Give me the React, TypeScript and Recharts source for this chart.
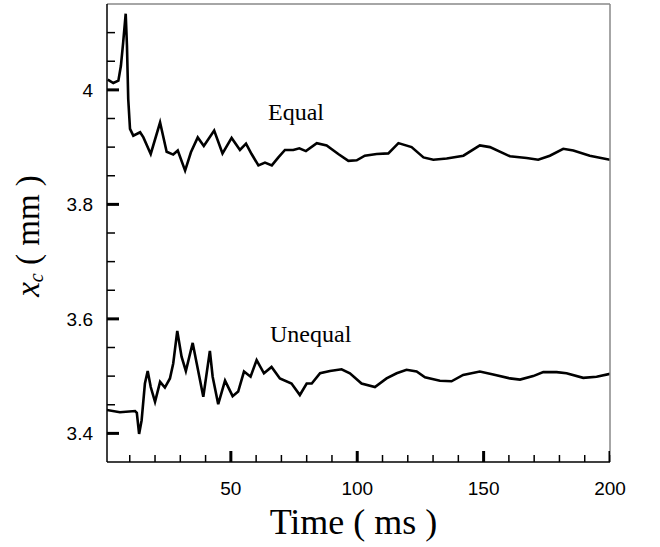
import React from 'react';
import { ComposedChart, Line, Scatter, XAxis, YAxis, ReferenceDot } from 'recharts';

const equalTime = [1.3, 3.5, 5.5, 6.5, 7.4, 8.4, 8.9, 9.4, 10.1, 11.4, 14.1, 15.4, 18.3, 22, 24.6, 27.2, 29, 31.9, 34.2, 36.9, 39.3, 43.4, 46.7, 50.3, 53.6, 56, 58.2, 60.9, 63.5, 66.2, 68.8, 71.4, 74.7, 77.1, 79.7, 84, 87.9, 92.5, 96.5, 99.8, 103, 107.7, 112.3, 116.3, 121.5, 126.2, 130.1, 135.4, 142, 148.5, 152.5, 160.4, 167, 171.6, 176.2, 181.5, 185.5, 192, 200];
const equalValue = [4.018, 4.012, 4.016, 4.042, 4.083, 4.133, 4.077, 3.984, 3.932, 3.92, 3.926, 3.917, 3.888, 3.943, 3.892, 3.887, 3.894, 3.859, 3.891, 3.917, 3.902, 3.929, 3.889, 3.916, 3.895, 3.906, 3.888, 3.868, 3.873, 3.868, 3.882, 3.895, 3.895, 3.898, 3.893, 3.907, 3.903, 3.888, 3.876, 3.877, 3.885, 3.888, 3.889, 3.907, 3.9, 3.882, 3.878, 3.88, 3.885, 3.903, 3.9, 3.884, 3.881, 3.878, 3.885, 3.897, 3.894, 3.885, 3.878];

const unequalTime = [0.9, 6.1, 12.1, 12.8, 13.7, 14.7, 16, 17.1, 18.3, 20, 22, 23.9, 25.9, 27.2, 28.8, 30.5, 32.2, 34.9, 36.5, 39.1, 41.7, 42.8, 45, 47.7, 50.7, 52.9, 55.2, 57.8, 60.2, 63.1, 66.1, 69.4, 74, 77.3, 80, 82, 85.3, 89.2, 93.8, 97.1, 101.7, 107, 111.6, 115.6, 119.5, 123.5, 126.8, 132.7, 137.3, 141.9, 148.5, 153.8, 160.4, 164.4, 169.6, 173.6, 178.9, 182.8, 189.4, 194.7, 200];
const unequalValue = [3.441, 3.437, 3.439, 3.436, 3.399, 3.423, 3.487, 3.509, 3.481, 3.455, 3.49, 3.48, 3.496, 3.522, 3.579, 3.534, 3.509, 3.558, 3.522, 3.464, 3.544, 3.499, 3.451, 3.492, 3.465, 3.473, 3.508, 3.499, 3.528, 3.505, 3.516, 3.496, 3.487, 3.467, 3.487, 3.487, 3.505, 3.509, 3.512, 3.505, 3.487, 3.481, 3.496, 3.505, 3.511, 3.508, 3.498, 3.492, 3.491, 3.502, 3.508, 3.503, 3.496, 3.494, 3.5, 3.507, 3.507, 3.505, 3.497, 3.499, 3.504];

const xMinorTicks = [10, 20, 30, 40, 50, 60, 70, 80, 90, 100, 110, 120, 130, 140, 150, 160, 170, 180, 190, 200];
const xLabels = [50, 100, 150, 200];
const yMinorTicks = [3.4, 3.45, 3.5, 3.55, 3.6, 3.65, 3.7, 3.75, 3.8, 3.85, 3.9, 3.95, 4.0, 4.05, 4.1];
const yLabels = [3.4, 3.6, 3.8, 4];
const xDomain = [1, 200];
const yDomain = [3.35, 4.15];
const seriesNames = ['Equal', 'Unequal'];
const seriesLabelPos = [
  { t: 64.7, v: 3.962 },
  { t: 65.5, v: 3.575 },
];

const equalData = equalTime.map((t, i) => ({ t, v: equalValue[i] }));
const unequalData = unequalTime.map((t, i) => ({ t, v: unequalValue[i] }));
const majorTickData = xLabels.map((t) => ({ t, v: yDomain[0] }));

const SANS = "'Liberation Sans', Arial, sans-serif";
const SERIF = "'Liberation Serif', 'Times New Roman', serif";
const MINOR_WIDTH = 1.5;
const X_MINOR_LEN = 7;
const X_MAJOR_LEN = 11;
const X_TICK_MARGIN = 27;

const isMajor = (list: number[], v: number) => list.some((l) => Math.abs(l - v) < 1e-6);

const XTickLabel = (props: any) => {
  const { x, y, payload } = props;
  if (!isMajor(xLabels, payload.value)) return <g />;
  return (
    <text x={x} y={y} dy="0.71em" textAnchor="middle" fontFamily={SANS} fontSize={19} fill="#000">
      {String(payload.value)}
    </text>
  );
};

const MajorTickShape = (props: any) => {
  const { cx, cy } = props;
  if (cx == null || cy == null) return <g />;
  return <path d={`M${cx},${cy}L${cx},${cy - X_MAJOR_LEN}`} stroke="#000" strokeWidth={3} fill="none" />;
};

const XTitle = (props: any) => {
  const vb = props.viewBox;
  return (
    <text x={vb.x + vb.width / 2 - 5} y={vb.y + 72} textAnchor="middle" fontFamily={SERIF} fontSize={36} fill="#000" style={{ whiteSpace: 'pre' }}>
      {'Time ( ms )'}
    </text>
  );
};

const YTitle = () => {
  const cx = 31;
  const cy = 236;
  return (
    <text x={cx} y={cy} transform={`rotate(-90, ${cx}, ${cy})`} textAnchor="middle" dominantBaseline="middle" fontFamily={SERIF} fontSize={33} fill="#000" style={{ whiteSpace: 'pre' }}>
      <tspan fontStyle="italic">x</tspan>
      <tspan fontStyle="italic" fontSize={20} dy={7}>c</tspan>
      <tspan dy={-7}>{' ( mm )'}</tspan>
    </text>
  );
};

const tickFont = { fontSize: 19, fontFamily: SANS, fill: '#000' };
const emptyTick = () => <g />;

export default function App() {
  return (
    <div style={{ position: 'absolute', left: 0, top: 0, background: '#fff' }}>
      <ComposedChart width={660} height={547} margin={{ top: 4, right: 50, bottom: 0, left: 0 }}>
        <XAxis
          dataKey="t"
          type="number"
          domain={xDomain}
          ticks={xMinorTicks}
          interval={0}
          allowDataOverflow
          stroke="#000"
          tickSize={-X_MINOR_LEN}
          tickMargin={X_TICK_MARGIN}
          tick={(p: any) => <XTickLabel {...p} />}
          tickLine={{ stroke: '#000', strokeWidth: MINOR_WIDTH }}
          height={85}
          axisLine={{ stroke: '#000', strokeWidth: 1.5 }}
          label={{ content: (p: any) => <XTitle {...p} /> }}
        />
        <XAxis
          xAxisId="top"
          orientation="top"
          mirror
          type="number"
          domain={xDomain}
          allowDataOverflow
          height={10}
          tick={false}
          tickLine={false}
          axisLine={{ stroke: '#888', strokeWidth: 1.5 }}
        />
        <YAxis
          type="number"
          domain={yDomain}
          ticks={yLabels}
          interval={0}
          allowDataOverflow
          stroke="#000"
          tickSize={-12}
          tickMargin={26}
          tick={tickFont}
          tickLine={{ stroke: '#000', strokeWidth: 3 }}
          width={107}
          axisLine={{ stroke: '#000', strokeWidth: 1.5 }}
          label={{ content: () => <YTitle /> }}
        />
        <YAxis
          yAxisId="minorY"
          orientation="left"
          mirror
          type="number"
          domain={yDomain}
          ticks={yMinorTicks}
          interval={0}
          allowDataOverflow
          width={20}
          tickSize={8}
          tick={emptyTick}
          stroke="#000"
          tickLine={{ stroke: '#000', strokeWidth: MINOR_WIDTH }}
          axisLine={false}
        />
        <YAxis
          yAxisId="right"
          orientation="right"
          mirror
          type="number"
          domain={yDomain}
          allowDataOverflow
          width={10}
          tick={false}
          tickLine={false}
          axisLine={{ stroke: '#888', strokeWidth: 1.5 }}
        />
        <Scatter data={majorTickData} dataKey="v" shape={(p: any) => <MajorTickShape {...p} />} isAnimationActive={false} legendType="none" />
        <Line data={equalData} dataKey="v" name={seriesNames[0]} stroke="#000" strokeWidth={2.6} dot={false} isAnimationActive={false} />
        <Line data={unequalData} dataKey="v" name={seriesNames[1]} stroke="#000" strokeWidth={2.6} dot={false} isAnimationActive={false} />
        {seriesNames.map((name, i) => (
          <ReferenceDot
            key={name}
            x={seriesLabelPos[i].t}
            y={seriesLabelPos[i].v}
            r={0}
            fill="none"
            stroke="none"
            label={{ value: name, position: 'right', offset: 0, fill: '#000', fontSize: 24, fontFamily: SERIF }}
          />
        ))}
      </ComposedChart>
    </div>
  );
}
